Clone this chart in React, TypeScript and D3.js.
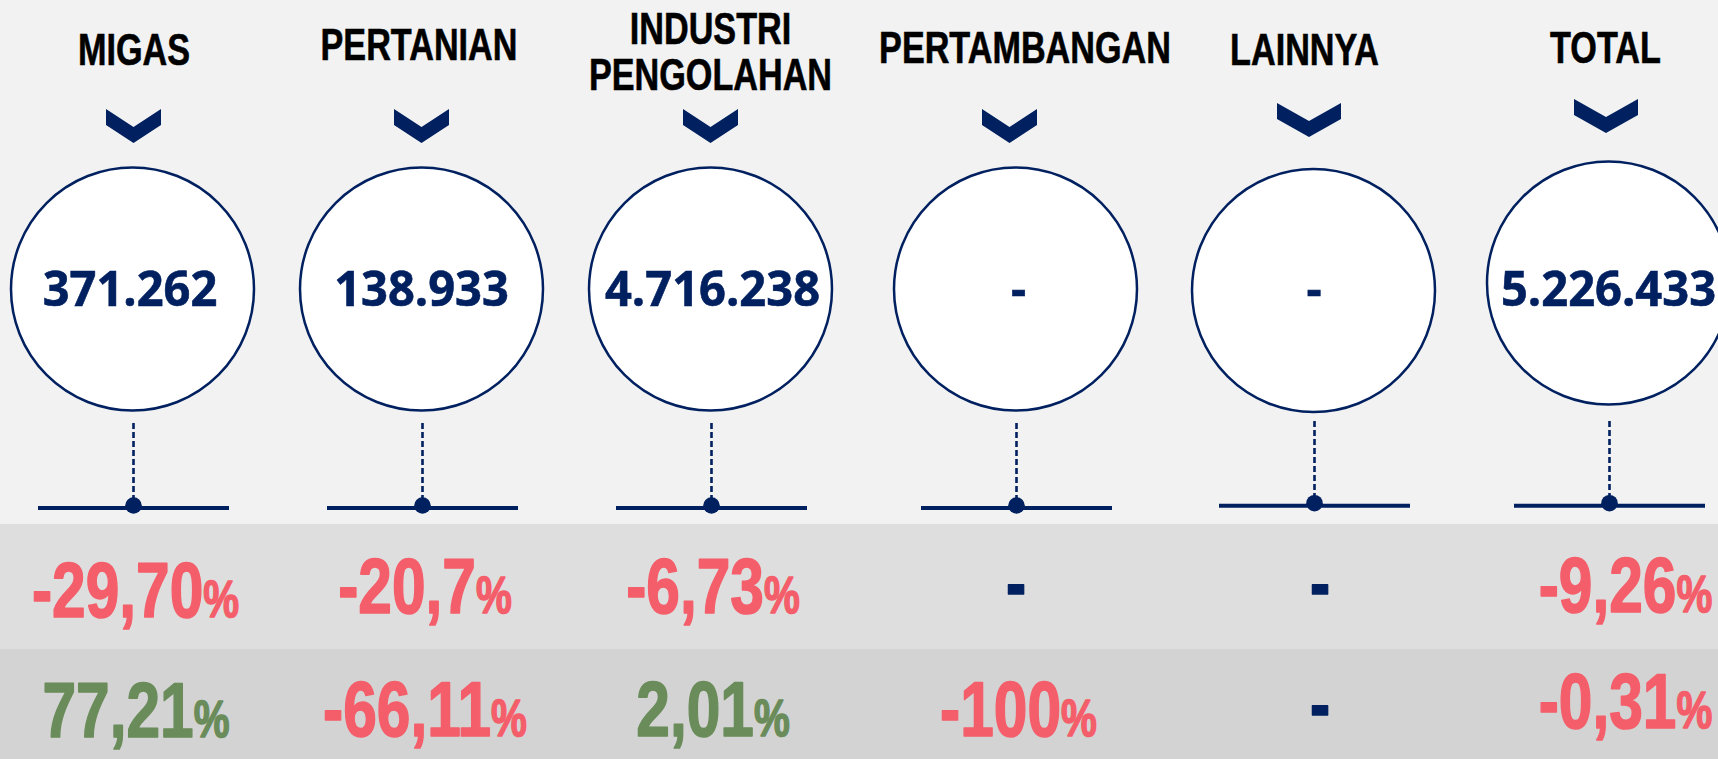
import React from "react";
import * as d3 from "d3";

// ---- data ----
const categories = ["MIGAS", "PERTANIAN", "INDUSTRI PENGOLAHAN", "PERTAMBANGAN", "LAINNYA", "TOTAL"];
const titleLines = [["MIGAS"], ["PERTANIAN"], ["INDUSTRI", "PENGOLAHAN"], ["PERTAMBANGAN"], ["LAINNYA"], ["TOTAL"]];
const values = ["371.262", "138.933", "4.716.238", "-", "-", "5.226.433"];
const growthRow1 = ["-29,70", "-20,7", "-6,73", "-", "-", "-9,26"];
const growthRow2 = ["77,21", "-66,11", "2,01", "-100", "-", "-0,31"];

// ---- layout (positions, not data) ----
const W = 1718;
const H = 759;
const colCenters = [132.5, 421.5, 710.5, 1015.5, 1313.5, 1608.5];
const titleCenters = [134, 419, 710.5, 1025, 1304.5, 1605.5];
const chevCenters = [133.5, 421.5, 710.5, 1009.5, 1309, 1606];
const chevTops = [109, 109, 109, 109, 103, 99];
const chevWidths = [55, 55, 55, 55, 64, 64];
const circleYs = [289, 289, 289, 289, 290.5, 283];
const stemTops = [423, 423, 423, 423, 421, 421];
const baseYs = [508, 508, 508, 508, 505.7, 505.7];
const valueX = [130, 421.5, 712.5, 1018.5, 1314, 1608.5];
const row1X = [135.5, 425, 713, 1016, 1320, 1625.5];
const row2X = [136, 425, 713, 1018.5, 1320, 1625.5];
const row1Base = [617, 613, 613, 609.5, 609.5, 612];
const row2Base = [737, 736, 736, 736, 730.5, 728];
const titleBase = [[65], [60], [44, 90], [63], [65], [63]];

const NAVY = "#002060";
const RED = "#F45E6A";
const GREEN = "#6A8C5A";

const xTitle = d3.scaleOrdinal<string, number>().domain(categories).range(titleCenters);
const xChev = d3.scaleOrdinal<string, number>().domain(categories).range(chevCenters);
const xCol = d3.scaleOrdinal<string, number>().domain(categories).range(colCenters);

function colorFor(label: string) {
  if (label === "-") return NAVY;
  const v = parseFloat(label.replace(",", "."));
  return v < 0 ? RED : GREEN;
}

function Pct({ x, y, label }: { x: number; y: number; label: string }) {
  const fill = colorFor(label);
  return (
    <g transform={`translate(${x},${y}) scale(0.775,1)`}>
      <text
        x={0}
        y={0}
        textAnchor="middle"
        fill={fill}
        stroke={fill}
        strokeWidth={1.6}
        strokeLinejoin="round"
        fontFamily="'Liberation Sans', Arial, sans-serif"
        fontWeight="bold"
        fontSize={78}
      >
        {label}
        {label !== "-" && <tspan fontSize={52}>%</tspan>}
      </text>
    </g>
  );
}

export default function App() {
  const r = 121.5;
  return (
    <div style={{ position: "fixed", left: 0, top: 0 }}>
      <svg width={W} height={H} style={{ display: "block" }}>
        <rect x={0} y={0} width={W} height={524} fill="#F2F2F2" />
        <rect x={0} y={524} width={W} height={125} fill="#DEDEDE" />
        <rect x={0} y={649} width={W} height={H - 649} fill="#D3D3D3" />
        {categories.map((c, i) => {
          const cx = xCol(c);
          const chx = xChev(c);
          const ct = chevTops[i];
          const cw = chevWidths[i];
          const ch = 34;
          const t = 16;
          const chev = d3.path();
          chev.moveTo(chx - cw / 2, ct);
          chev.lineTo(chx, ct + ch - t);
          chev.lineTo(chx + cw / 2, ct);
          chev.lineTo(chx + cw / 2, ct + t);
          chev.lineTo(chx, ct + ch);
          chev.lineTo(chx - cw / 2, ct + t);
          chev.closePath();
          const stemX = cx + 1;
          return (
            <g key={c}>
              {titleLines[i].map((ln, k) => (
                <g key={k} transform={`translate(${xTitle(c)},${titleBase[i][k]}) scale(0.76,1)`}>
                  <text
                    x={0}
                    y={0}
                    textAnchor="middle"
                    fill="#000"
                    stroke="#000"
                    strokeWidth={0.6}
                    fontFamily="'Liberation Sans', Arial, sans-serif"
                    fontWeight="bold"
                    fontSize={45}
                  >
                    {ln}
                  </text>
                </g>
              ))}
              <path d={chev.toString()} fill={NAVY} />
              <circle cx={cx} cy={circleYs[i]} r={r} fill="#FFFFFF" stroke={NAVY} strokeWidth={2.5} />
              <g transform={`translate(${valueX[i]},306) scale(0.96,1)`}>
                <text
                  x={0}
                  y={0}
                  textAnchor="middle"
                  fill={NAVY}
                  stroke={NAVY}
                  strokeWidth={0.6}
                  fontFamily="'Open Sans', sans-serif"
                  fontWeight="bold"
                  fontSize={49}
                >
                  {values[i]}
                </text>
              </g>
              <line
                x1={stemX}
                x2={stemX}
                y1={stemTops[i]}
                y2={baseYs[i] - 6}
                stroke={NAVY}
                strokeWidth={2.6}
                strokeDasharray="6,3"
              />
              <line x1={stemX - 95.5} x2={stemX + 95.5} y1={baseYs[i]} y2={baseYs[i]} stroke={NAVY} strokeWidth={4} />
              <circle cx={stemX} cy={baseYs[i] - 2.5} r={8.3} fill={NAVY} />
              <Pct x={row1X[i]} y={row1Base[i]} label={growthRow1[i]} />
              <Pct x={row2X[i]} y={row2Base[i]} label={growthRow2[i]} />
            </g>
          );
        })}
      </svg>
    </div>
  );
}
